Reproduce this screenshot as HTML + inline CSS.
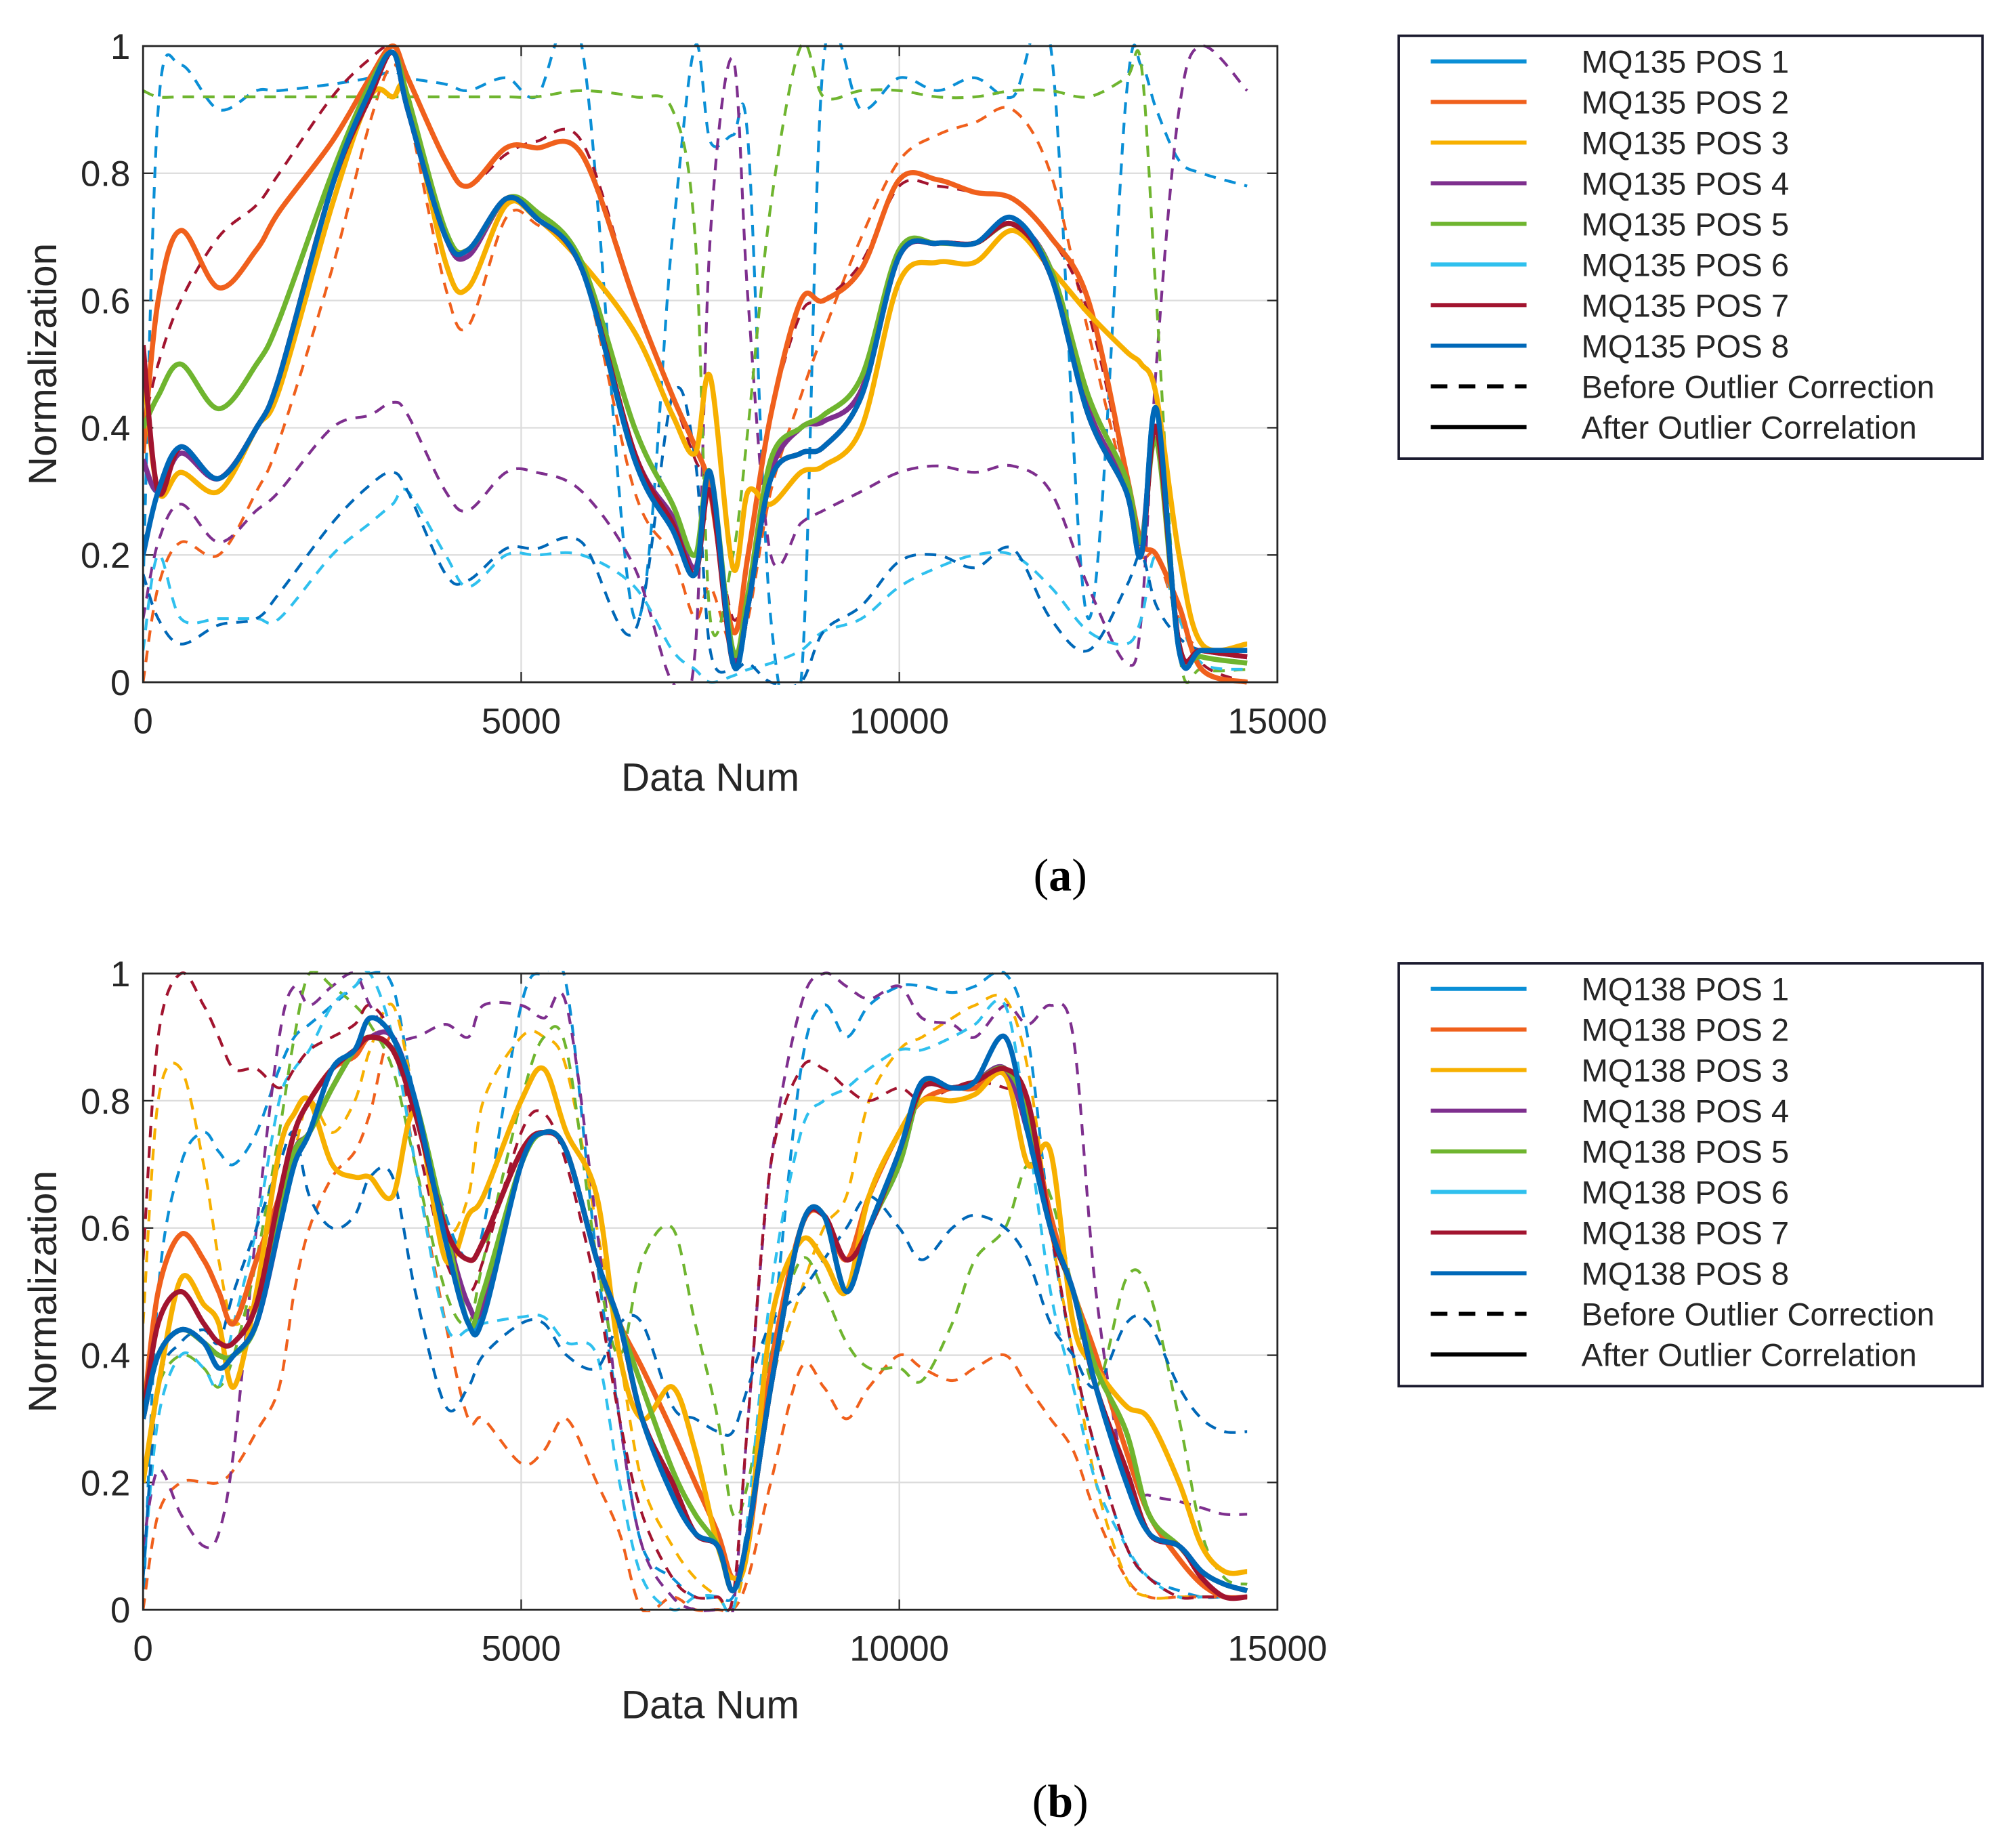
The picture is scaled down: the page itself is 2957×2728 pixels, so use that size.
<!DOCTYPE html>
<html><head><meta charset="utf-8"><style>
html,body{margin:0;padding:0;background:#fff}
svg{display:block}
text{font-family:"Liberation Sans",sans-serif;fill:#262626}
</style></head><body>
<svg id="fig" width="2957" height="2728" viewBox="0 0 1568 1446.5" xmlns="http://www.w3.org/2000/svg">
<g id="pa"></g>
<g id="pb"></g>
<text x="830" y="697" text-anchor="middle" style="font-family:'Liberation Serif',serif;font-size:36px;fill:#000">(<tspan font-weight="bold">a</tspan>)</text>
<text x="830" y="1422" text-anchor="middle" style="font-family:'Liberation Serif',serif;font-size:36px;fill:#000">(<tspan font-weight="bold">b</tspan>)</text>
</svg>
<script>
const xTicks=[0,5000,10000,15000];
const yTicks=[0,0.2,0.4,0.6,0.8,1];
const yTickLabels=['0','0.2','0.4','0.6','0.8','1'];
const colors=['#0a8fd6','#f0601c','#f7b000','#7e2f8e','#6fb52f','#2fc0ee','#a2142f','#0068b8'];
// Chart A data
const xa=[0,200,500,1000,1500,1800,2500,3000,3300,3500,4000,4300,4800,5200,5800,6500,7000,7300,7500,7800,8000,8300,8700,9000,9500,10000,10500,11000,11500,12000,12500,13000,13200,13400,13700,14000,14600];
const aS1=[0.35,0.3,0.37,0.32,0.4,0.48,0.78,0.92,0.99,0.9,0.7,0.68,0.76,0.73,0.65,0.35,0.25,0.17,0.32,0.03,0.12,0.32,0.36,0.37,0.45,0.67,0.69,0.69,0.72,0.64,0.42,0.3,0.2,0.43,0.05,0.05,0.05];
const aS2=[0.36,0.6,0.71,0.62,0.68,0.74,0.85,0.95,1.0,0.95,0.82,0.78,0.84,0.84,0.83,0.6,0.45,0.37,0.3,0.08,0.2,0.42,0.6,0.6,0.65,0.79,0.79,0.77,0.76,0.7,0.6,0.33,0.22,0.2,0.12,0.02,0.0];
const aS3=[0.5,0.3,0.33,0.3,0.4,0.46,0.75,0.92,0.92,0.92,0.66,0.62,0.75,0.73,0.66,0.55,0.42,0.36,0.48,0.18,0.3,0.28,0.33,0.34,0.4,0.63,0.66,0.66,0.71,0.65,0.58,0.52,0.5,0.45,0.2,0.06,0.06];
const aS4=[0.35,0.3,0.36,0.32,0.4,0.48,0.78,0.92,0.99,0.9,0.7,0.67,0.76,0.73,0.65,0.36,0.26,0.18,0.3,0.04,0.12,0.33,0.4,0.41,0.46,0.67,0.69,0.69,0.72,0.65,0.43,0.31,0.22,0.4,0.06,0.05,0.04];
const aS5=[0.4,0.45,0.5,0.43,0.5,0.57,0.8,0.94,0.99,0.92,0.71,0.68,0.76,0.74,0.66,0.4,0.28,0.2,0.33,0.05,0.14,0.35,0.4,0.42,0.48,0.68,0.69,0.69,0.72,0.65,0.45,0.32,0.22,0.38,0.06,0.04,0.03];
const aS7=[0.53,0.3,0.37,0.32,0.4,0.48,0.78,0.92,0.99,0.9,0.7,0.68,0.76,0.73,0.65,0.36,0.25,0.17,0.3,0.03,0.12,0.32,0.36,0.37,0.45,0.67,0.69,0.69,0.72,0.64,0.42,0.3,0.2,0.4,0.06,0.05,0.04];
const aS8=[0.2,0.3,0.37,0.32,0.4,0.48,0.78,0.93,0.99,0.9,0.7,0.68,0.76,0.73,0.65,0.35,0.24,0.17,0.33,0.03,0.12,0.32,0.36,0.37,0.45,0.67,0.69,0.69,0.73,0.64,0.42,0.3,0.2,0.43,0.05,0.05,0.05];
const aD1=[0.15,0.9,0.97,0.9,0.93,0.93,0.94,0.95,0.96,0.95,0.94,0.93,0.95,0.92,1.0,0.1,0.7,1.0,0.85,0.86,0.85,0.1,0.0,0.98,0.9,0.95,0.93,0.95,0.92,1.0,0.1,0.92,0.97,0.9,0.82,0.8,0.78];
const aD2=[0.0,0.15,0.22,0.2,0.3,0.38,0.65,0.88,0.97,0.9,0.62,0.56,0.73,0.72,0.65,0.3,0.2,0.1,0.15,0.05,0.1,0.3,0.45,0.55,0.7,0.82,0.86,0.88,0.9,0.8,0.55,0.3,0.2,0.2,0.1,0.05,0.05];
const aD4=[0.1,0.22,0.28,0.22,0.27,0.3,0.4,0.42,0.44,0.42,0.3,0.27,0.33,0.33,0.3,0.18,0.0,0.05,0.7,0.98,0.6,0.2,0.25,0.27,0.3,0.33,0.34,0.33,0.34,0.3,0.15,0.03,0.1,0.5,0.9,1.0,0.93];
const aD5=[0.93,0.92,0.92,0.92,0.92,0.92,0.92,0.92,0.92,0.92,0.92,0.92,0.92,0.92,0.93,0.92,0.9,0.7,0.1,0.2,0.4,0.75,1.0,0.92,0.93,0.93,0.92,0.92,0.93,0.93,0.92,0.95,0.97,0.6,0.05,0.02,0.02];
const aD6=[0.05,0.2,0.1,0.1,0.1,0.1,0.2,0.25,0.28,0.3,0.2,0.15,0.2,0.2,0.2,0.15,0.05,0.02,0.0,0.01,0.02,0.03,0.05,0.08,0.1,0.15,0.18,0.2,0.2,0.15,0.08,0.06,0.1,0.2,0.1,0.03,0.02];
const aD7=[0.4,0.5,0.6,0.7,0.75,0.8,0.92,0.98,1.0,0.95,0.82,0.78,0.83,0.85,0.85,0.6,0.45,0.35,0.3,0.1,0.2,0.42,0.58,0.6,0.66,0.78,0.78,0.77,0.76,0.7,0.58,0.32,0.22,0.2,0.12,0.03,0.0];
const aD8=[0.17,0.1,0.06,0.09,0.1,0.14,0.25,0.31,0.33,0.3,0.17,0.16,0.21,0.21,0.22,0.08,0.45,0.35,0.05,0.02,0.03,0.0,0.0,0.08,0.12,0.19,0.2,0.18,0.21,0.1,0.05,0.15,0.2,0.12,0.07,0.05,0.04];
// Chart B data
const xb=[0,200,500,800,1000,1200,1500,1800,2000,2200,2500,2800,3000,3300,3600,4000,4300,4500,5000,5300,5600,6000,6300,6600,7000,7300,7600,7800,8000,8300,8700,9000,9300,9600,10000,10300,10700,11000,11400,11700,12000,12300,12600,13000,13300,13700,14000,14300,14600];
const bS1=[0.3,0.4,0.44,0.42,0.38,0.4,0.45,0.6,0.7,0.75,0.85,0.88,0.93,0.9,0.8,0.6,0.45,0.48,0.7,0.75,0.72,0.55,0.45,0.3,0.2,0.12,0.1,0.03,0.12,0.35,0.6,0.62,0.5,0.6,0.7,0.82,0.82,0.83,0.85,0.75,0.6,0.5,0.35,0.22,0.12,0.1,0.06,0.04,0.03];
const bS2=[0.3,0.5,0.59,0.55,0.5,0.45,0.55,0.65,0.75,0.8,0.85,0.87,0.9,0.88,0.78,0.6,0.55,0.58,0.72,0.75,0.72,0.55,0.45,0.38,0.28,0.2,0.12,0.05,0.1,0.38,0.6,0.62,0.55,0.65,0.75,0.8,0.82,0.82,0.85,0.78,0.62,0.5,0.4,0.25,0.15,0.08,0.04,0.02,0.02];
const bS3=[0.2,0.35,0.52,0.48,0.45,0.35,0.5,0.72,0.78,0.8,0.7,0.68,0.68,0.65,0.78,0.55,0.62,0.65,0.8,0.85,0.75,0.65,0.4,0.3,0.35,0.25,0.1,0.05,0.1,0.45,0.58,0.55,0.5,0.65,0.75,0.8,0.8,0.81,0.84,0.7,0.72,0.45,0.38,0.32,0.3,0.2,0.1,0.06,0.06];
const bS4=[0.3,0.4,0.44,0.42,0.4,0.4,0.45,0.6,0.72,0.75,0.82,0.88,0.9,0.9,0.8,0.6,0.48,0.48,0.7,0.75,0.72,0.55,0.45,0.3,0.2,0.12,0.1,0.03,0.12,0.35,0.6,0.62,0.5,0.6,0.7,0.82,0.82,0.83,0.85,0.75,0.6,0.5,0.35,0.22,0.12,0.1,0.06,0.04,0.03];
const bS5=[0.3,0.4,0.44,0.42,0.4,0.4,0.45,0.62,0.72,0.75,0.82,0.88,0.9,0.88,0.8,0.6,0.45,0.5,0.7,0.75,0.72,0.55,0.45,0.35,0.22,0.15,0.1,0.03,0.12,0.35,0.6,0.62,0.5,0.6,0.7,0.82,0.82,0.83,0.85,0.78,0.6,0.5,0.38,0.28,0.15,0.1,0.06,0.04,0.03];
const bS7=[0.3,0.45,0.5,0.45,0.42,0.42,0.48,0.65,0.75,0.8,0.85,0.88,0.9,0.88,0.78,0.6,0.55,0.58,0.72,0.75,0.72,0.55,0.45,0.3,0.2,0.12,0.1,0.03,0.12,0.35,0.6,0.62,0.55,0.6,0.72,0.82,0.82,0.83,0.85,0.8,0.6,0.5,0.35,0.22,0.12,0.1,0.05,0.02,0.02];
const bS8=[0.3,0.4,0.44,0.42,0.38,0.4,0.45,0.6,0.7,0.75,0.85,0.88,0.93,0.9,0.8,0.58,0.45,0.46,0.7,0.75,0.72,0.55,0.45,0.3,0.18,0.12,0.1,0.03,0.12,0.35,0.6,0.62,0.5,0.6,0.72,0.83,0.82,0.83,0.9,0.75,0.6,0.5,0.35,0.2,0.12,0.1,0.06,0.04,0.03];
const bD1=[0.0,0.5,0.7,0.75,0.72,0.7,0.75,0.85,0.9,0.92,0.95,0.98,1.0,0.98,0.8,0.62,0.55,0.6,0.95,1.0,0.98,0.55,0.3,0.1,0.05,0.02,0.02,0.02,0.1,0.4,0.85,0.95,0.9,0.95,0.98,0.98,0.97,0.98,1.0,0.9,0.6,0.4,0.25,0.1,0.05,0.03,0.02,0.02,0.02];
const bD2=[0.0,0.15,0.2,0.2,0.2,0.22,0.28,0.35,0.5,0.6,0.68,0.72,0.78,0.9,0.7,0.45,0.3,0.3,0.23,0.25,0.3,0.2,0.12,0.0,0.02,0.0,0.0,0.0,0.05,0.2,0.38,0.35,0.3,0.35,0.4,0.38,0.36,0.38,0.4,0.35,0.3,0.25,0.15,0.05,0.02,0.02,0.02,0.02,0.02];
const bD3=[0.45,0.8,0.85,0.7,0.55,0.45,0.5,0.65,0.72,0.8,0.75,0.8,0.88,0.95,0.8,0.6,0.65,0.8,0.9,0.9,0.85,0.6,0.4,0.2,0.1,0.05,0.02,0.0,0.1,0.35,0.5,0.6,0.65,0.8,0.88,0.9,0.93,0.95,0.96,0.85,0.6,0.4,0.2,0.05,0.02,0.02,0.02,0.02,0.02];
const bD4=[0.1,0.22,0.15,0.1,0.12,0.25,0.6,0.9,0.98,0.95,0.98,1.0,0.95,0.9,0.9,0.92,0.9,0.95,0.95,0.93,0.95,0.6,0.3,0.1,0.02,0.0,0.0,0.0,0.3,0.7,0.95,1.0,0.98,0.96,0.98,0.93,0.92,0.9,0.95,0.92,0.95,0.9,0.5,0.2,0.18,0.17,0.16,0.15,0.15];
const bD5=[0.2,0.35,0.4,0.38,0.35,0.4,0.55,0.75,0.9,1.0,0.98,0.95,0.92,0.85,0.7,0.5,0.45,0.55,0.8,0.9,0.88,0.55,0.4,0.55,0.6,0.45,0.3,0.15,0.2,0.4,0.55,0.5,0.42,0.38,0.38,0.36,0.45,0.55,0.6,0.7,0.65,0.5,0.35,0.52,0.5,0.3,0.12,0.05,0.04];
const bD6=[0.05,0.3,0.4,0.38,0.35,0.45,0.6,0.8,0.85,0.88,0.95,0.98,1.0,0.9,0.7,0.45,0.44,0.45,0.46,0.46,0.42,0.4,0.2,0.05,0.0,0.02,0.02,0.0,0.15,0.5,0.75,0.8,0.82,0.85,0.88,0.88,0.9,0.92,0.95,0.75,0.5,0.35,0.2,0.1,0.05,0.02,0.02,0.02,0.02];
const bD7=[0.55,0.9,1.0,0.95,0.9,0.85,0.85,0.82,0.85,0.88,0.9,0.92,0.95,0.9,0.75,0.55,0.5,0.55,0.75,0.78,0.7,0.5,0.3,0.15,0.05,0.02,0.02,0.02,0.3,0.7,0.85,0.85,0.82,0.8,0.82,0.8,0.82,0.83,0.82,0.8,0.6,0.4,0.25,0.1,0.05,0.02,0.02,0.02,0.02];
const bD8=[0.05,0.35,0.42,0.44,0.42,0.5,0.6,0.7,0.75,0.65,0.6,0.62,0.68,0.68,0.5,0.32,0.35,0.4,0.45,0.45,0.4,0.38,0.45,0.45,0.32,0.3,0.28,0.28,0.35,0.45,0.5,0.55,0.6,0.65,0.6,0.55,0.6,0.62,0.6,0.55,0.45,0.4,0.35,0.45,0.45,0.35,0.3,0.28,0.28];

const NS='http://www.w3.org/2000/svg';
function mk(tag,attrs,parent){const e=document.createElementNS(NS,tag);for(const k in attrs)e.setAttribute(k,attrs[k]);parent.appendChild(e);return e;}
function smooth(pts){let d='M'+pts[0][0].toFixed(1)+','+pts[0][1].toFixed(1);
 for(let i=0;i<pts.length-1;i++){const p0=pts[i-1]||pts[i],p1=pts[i],p2=pts[i+1],p3=pts[i+2]||p2;
  const c1=[p1[0]+(p2[0]-p0[0])/6,p1[1]+(p2[1]-p0[1])/6],c2=[p2[0]-(p3[0]-p1[0])/6,p2[1]-(p3[1]-p1[1])/6];
  d+='C'+c1.map(v=>v.toFixed(1))+' '+c2.map(v=>v.toFixed(1))+' '+p2.map(v=>v.toFixed(1));}
 return d;}

function chart(g,top,xs,solids,dashes,prefix,legTop){
 const L=112,R=1000,T=top,B=top+498;
 const X=v=>L+(v-0)/15000*(R-L), Y=v=>B-(v)*(B-T);
 const clip='clip'+prefix;
 const cp=mk('clipPath',{id:clip},g);mk('rect',{x:L,y:T-2,width:R-L,height:B-T+4},cp);
 mk('rect',{x:L,y:T,width:R-L,height:B-T,fill:'#fff'},g);
 xTicks.forEach(t=>{const x=X(t);
  const gl=mk('line',{x1:x,x2:x,y1:T,y2:B,stroke:'#dcdcdc','stroke-width':1.2},g);
  
  mk('line',{x1:x,x2:x,y1:B,y2:B-8,stroke:'#262626','stroke-width':1.2},g);
  mk('line',{x1:x,x2:x,y1:T,y2:T+8,stroke:'#262626','stroke-width':1.2},g);
  const tx=mk('text',{x:x,y:B+40,'text-anchor':'middle','font-size':28},g);tx.textContent=t;
  });
 yTicks.forEach((t,i)=>{const y=Y(t);
  const gl=mk('line',{x1:L,x2:R,y1:y,y2:y,stroke:'#dcdcdc','stroke-width':1.2},g);
  
  mk('line',{x1:L,x2:L+8,y1:y,y2:y,stroke:'#262626','stroke-width':1.2},g);
  mk('line',{x1:R,x2:R-8,y1:y,y2:y,stroke:'#262626','stroke-width':1.2},g);
  const tx=mk('text',{x:L-10,y:y+10,'text-anchor':'end','font-size':28},g);tx.textContent=yTickLabels[i];
  });
 const lg=mk('g',{'clip-path':'url(#'+clip+')'},g);
 dashes.forEach((s,i)=>{if(!s)return;const p=mk('path',{d:smooth(xs.map((x,j)=>[X(x),Y(s[j])])),fill:'none',stroke:colors[i],'stroke-width':2.2,'stroke-dasharray':'9,7'},lg);
  });
 solids.forEach((s,i)=>{if(!s)return;const p=mk('path',{d:smooth(xs.map((x,j)=>[X(x),Y(s[j])])),fill:'none',stroke:colors[i],'stroke-width':4,'stroke-linejoin':'round'},lg);
  });
 const fr=mk('rect',{x:L,y:T,width:R-L,height:B-T,fill:'none',stroke:'#262626','stroke-width':1.5},g);
 
 const xl=mk('text',{x:(L+R)/2,y:B+85,'text-anchor':'middle','font-size':31},g);xl.textContent='Data Num';
 
 const yl=mk('text',{x:0,y:0,'text-anchor':'middle','font-size':31,transform:'translate(44,'+((T+B)/2)+') rotate(-90)'},g);yl.textContent='Normalization';
 
 // legend
 const lgd=mk('g',{},g);
 
 mk('rect',{x:1095,y:legTop,width:457,height:331,fill:'#fff',stroke:'#1a1a2e','stroke-width':2},lgd);
 const labels=[];for(let i=1;i<=8;i++)labels.push(prefix+' POS '+i);labels.push('Before Outlier Correction','After Outlier Correlation');
 labels.forEach((lab,i)=>{const y=legTop+20+i*31.8;
  const e=mk('g',{},lgd);
  
  if(i<8)mk('line',{x1:1120,x2:1195,y1:y,y2:y,stroke:colors[i],'stroke-width':3.2},e);
  else if(i==8)mk('line',{x1:1120,x2:1195,y1:y,y2:y,stroke:'#000','stroke-width':3.2,'stroke-dasharray':'13,9'},e);
  else mk('line',{x1:1120,x2:1195,y1:y,y2:y,stroke:'#000','stroke-width':3.2},e);
  const t=mk('text',{x:1238,y:y+9,'font-size':25},e);t.textContent=lab;});
}
chart(document.getElementById('pa'),36,xa,[aS1,aS2,aS3,aS4,aS5,null,aS7,aS8],[aD1,aD2,null,aD4,aD5,aD6,aD7,aD8],'MQ135',28);
chart(document.getElementById('pb'),762,xb,[bS1,bS2,bS3,bS4,bS5,null,bS7,bS8],[bD1,bD2,bD3,bD4,bD5,bD6,bD7,bD8],'MQ138',754);
</script>
</body></html>
